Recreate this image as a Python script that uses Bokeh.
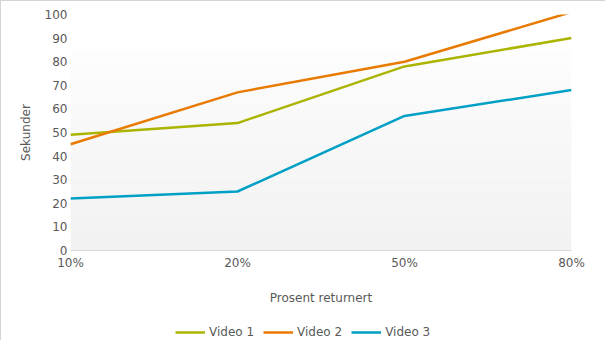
from bokeh.plotting import figure
from bokeh.layouts import column
from bokeh.models import Range1d, FixedTicker, Legend, LegendItem, BoxAnnotation
from bokeh.embed import file_html
from bokeh.resources import INLINE

categories = ["10%", "20%", "50%", "80%"]
video1 = [49, 54, 78, 90]
video2 = [45, 67, 80, 101]
video3 = [22, 25, 57, 68]
series_names = ["Video 1", "Video 2", "Video 3"]
colors = ["#abb400", "#e97a00", "#00a0c6"]
y_ticks = list(range(0, 101, 10))

xs = list(range(len(categories)))

p = figure(width=604, height=309, output_backend="svg", toolbar_location=None,
           x_range=Range1d(0, len(categories) - 1), y_range=Range1d(0, 100),
           min_border_left=69, min_border_right=34, min_border_top=13, min_border_bottom=60)
p.outline_line_color = None
p.background_fill_color = "white"
p.border_fill_color = "white"
p.grid.visible = False

# subtle vertical gradient in the plot area
nb = 17
top = 85.0
for i in range(nb):
    b0 = top * i / nb
    b1 = top * (i + 1) / nb
    g = int(0xf2 + (0xfd - 0xf2) * (i / (nb - 1)))
    c = "#%02x%02x%02x" % (g, g, g)
    p.add_layout(BoxAnnotation(bottom=b0, top=b1, fill_color=c, fill_alpha=1.0, line_color=None, level="underlay"))

font = "DejaVu Sans"
tc = "#595959"
fs = "12px"

p.xaxis.ticker = FixedTicker(ticks=xs)
p.xaxis.major_label_overrides = {i: c for i, c in enumerate(categories)}
p.xaxis.axis_line_color = "#d9d9d9"
p.xaxis.major_tick_line_color = None
p.xaxis.minor_tick_line_color = None
p.xaxis.major_tick_out = 0
p.xaxis.major_tick_in = 0
p.xaxis.major_label_standoff = 5
p.xaxis.axis_label = "Prosent returnert"
p.xaxis.axis_label_standoff = 18
p.yaxis.ticker = FixedTicker(ticks=y_ticks)
p.yaxis.axis_line_color = None
p.yaxis.major_tick_line_color = None
p.yaxis.minor_tick_line_color = None
p.yaxis.major_tick_out = 0
p.yaxis.major_tick_in = 0
p.yaxis.major_label_standoff = 3
p.yaxis.axis_label = "Sekunder"
p.yaxis.axis_label_standoff = 9
for ax in (p.xaxis, p.yaxis):
    ax.major_label_text_font = font
    ax.major_label_text_font_size = fs
    ax.major_label_text_color = tc
    ax.axis_label_text_font = font
    ax.axis_label_text_font_size = fs
    ax.axis_label_text_font_style = "normal"
    ax.axis_label_text_color = tc

all_series = [video1, video2, video3]
for vals, col in zip(all_series, colors):
    p.line(xs, vals, line_color=col, line_width=2.5)

# legend strip below the chart
p2 = figure(width=604, height=30, output_backend="svg", toolbar_location=None,
            x_range=Range1d(0, len(categories) - 1), y_range=Range1d(0, 100),
            min_border=0)
p2.axis.visible = False
p2.grid.visible = False
p2.outline_line_color = None
p2.background_fill_color = "white"
p2.border_fill_color = "white"
items = []
for name, vals, col in zip(series_names, all_series, colors):
    r = p2.line(xs, vals, line_color=col, line_width=2.5, visible=False)
    items.append(LegendItem(label=name, renderers=[r]))
legend = Legend(items=items, orientation="horizontal", location=(105, 1),
                label_text_font=font, label_text_font_size=fs, label_text_color=tc,
                glyph_width=30, glyph_height=12, spacing=9, label_standoff=4,
                padding=5, margin=0,
                border_line_color=None, background_fill_alpha=0)
p2.add_layout(legend, "center")

layout = column(p, p2, spacing=0,
                styles={"border-left": "1px solid #d4d4d4", "border-top": "1px solid #d4d4d4"})

open("out.html", "w").write(file_html(layout, INLINE))
